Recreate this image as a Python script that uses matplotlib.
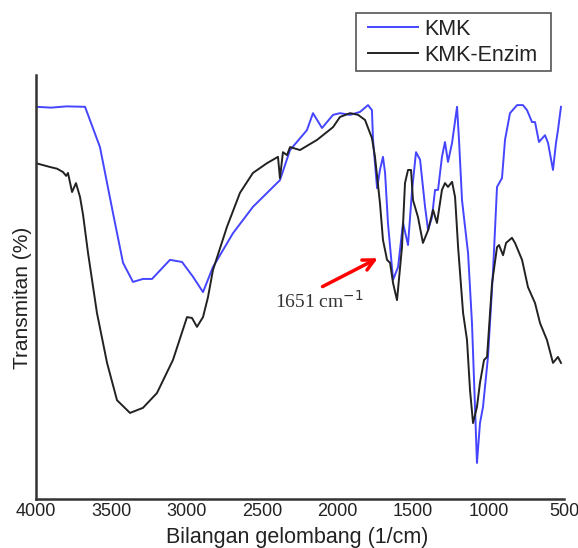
import matplotlib
matplotlib.use("Agg")
import matplotlib.pyplot as plt
from matplotlib.patches import Rectangle

# KMK (blue)
kmk_wn = [4000, 3900, 3800, 3675, 3576, 3490, 3423, 3357, 3291, 3231, 3112, 3032, 2959,
          2893, 2827, 2694, 2562, 2383, 2316, 2204, 2164, 2104, 2031, 1985, 1918, 1852,
          1799, 1773, 1766, 1739, 1720, 1700, 1686, 1667, 1633, 1600, 1567, 1534, 1507,
          1481, 1454, 1421, 1401, 1375, 1355, 1335, 1309, 1289, 1269, 1242, 1209, 1196,
          1176, 1156, 1136, 1110, 1090, 1077, 1057, 1037, 1004, 971, 944, 911, 891, 858,
          811, 772, 745, 712, 692, 666, 626, 606, 573, 553, 540, 520]
kmk_t = [92.5, 92.3, 92.6, 92.5, 83.0, 67.5, 55.7, 51.2, 51.9, 51.9, 56.4, 55.9, 52.4,
         48.8, 54.7, 62.7, 68.9, 75.2, 82.3, 87.0, 91.0, 87.5, 90.6, 91.0, 90.6, 91.3,
         92.9, 91.7, 84.7, 73.3, 77.6, 80.7, 76.9, 65.1, 51.7, 54.7, 65.1, 59.9, 72.9,
         81.8, 80.0, 68.9, 63.4, 66.5, 72.9, 72.9, 80.7, 84.2, 79.5, 84.0, 92.5, 84.7,
         70.5, 64.2, 58.0, 41.5, 21.7, 8.5, 17.9, 21.7, 33.5, 53.3, 73.6, 75.7, 84.7,
         91.0, 92.9, 92.9, 91.7, 88.9, 88.9, 84.2, 85.8, 84.0, 77.6, 84.0, 87.0, 92.5]

# KMK-Enzim (black)
enz_wn = [4000, 3907, 3860, 3821, 3800, 3788, 3761, 3735, 3708, 3688, 3655, 3596, 3529,
          3463, 3377, 3291, 3198, 3092, 2999, 2966, 2933, 2893, 2860, 2827, 2734, 2648,
          2562, 2469, 2396, 2383, 2363, 2336, 2316, 2250, 2137, 2031, 1985, 1918, 1865,
          1819, 1773, 1753, 1720, 1700, 1673, 1653, 1633, 1607, 1574, 1554, 1534, 1514,
          1501, 1468, 1435, 1401, 1368, 1342, 1309, 1289, 1269, 1242, 1222, 1202, 1169,
          1143, 1123, 1103, 1077, 1057, 1030, 1010, 977, 944, 931, 904, 884, 845, 825,
          778, 739, 692, 659, 613, 573, 540, 520]
enz_t = [79.2, 78.3, 77.9, 77.1, 76.2, 76.9, 72.4, 74.5, 71.2, 67.0, 58.0, 43.9, 32.1,
         23.3, 20.3, 21.5, 25.0, 32.8, 42.9, 42.7, 40.6, 42.9, 47.6, 54.0, 64.2, 72.2,
         76.9, 79.2, 80.7, 75.7, 81.8, 81.1, 83.0, 82.3, 84.7, 87.7, 90.1, 91.0, 90.6,
         89.4, 85.1, 80.7, 69.8, 61.1, 56.4, 55.7, 50.9, 46.9, 59.4, 74.5, 77.6, 77.6,
         70.5, 66.5, 60.4, 63.4, 68.2, 65.1, 72.9, 74.5, 73.6, 74.8, 71.2, 59.4, 43.9,
         37.5, 25.7, 17.9, 21.7, 27.4, 32.8, 33.5, 50.9, 59.4, 59.9, 57.5, 60.4, 61.6,
         60.4, 56.4, 50.0, 46.2, 41.5, 37.5, 32.1, 33.5, 32.1]

xticks = [4000, 3500, 3000, 2500, 2000, 1500, 1000, 500]
series_labels = ["KMK", "KMK-Enzim"]
peak_label = "1651 cm$^{-1}$"

W, H = 578, 548
fig = plt.figure(figsize=(W / 100, H / 100), dpi=100)
ax = fig.add_axes([36 / W, 1 - 499 / H, 528 / W, 424 / H])

ax.plot(kmk_wn, kmk_t, color="#4545ff", lw=1.4, label=series_labels[0])
ax.plot(enz_wn, enz_t, color="#222222", lw=1.4, label=series_labels[1])

ax.set_xlim(4000, 500)
ax.set_ylim(0, 100)
ax.set_xticks(xticks)
ax.set_xticklabels([str(t) for t in xticks], fontsize=13, color="#222222",
                   family="Liberation Sans")
ax.set_yticks([])
ax.tick_params(axis="x", length=0, pad=3)

for s in ["top", "right"]:
    ax.spines[s].set_visible(False)
for s in ["left", "bottom"]:
    ax.spines[s].set_color("#333333")
    ax.spines[s].set_linewidth(1.8)

ax.set_xlabel("Bilangan gelombang (1/cm)", fontsize=15.5, family="Liberation Sans",
              color="#222222")
ax.xaxis.set_label_coords(0.495, -0.066)
ax.set_ylabel("Transmitan (%)", fontsize=15, family="Liberation Sans",
              color="#222222")
ax.yaxis.set_label_coords(-0.008, 0.474)

ax.annotate("", xy=(1718, 57.1), xytext=(2117, 49.8),
            arrowprops=dict(arrowstyle="->", color="red", lw=2.5, mutation_scale=20))
ax.text(2416, 45.0, peak_label, fontsize=14, family="Liberation Serif",
        color="#333333", ha="left", va="baseline")

# legend box
fig.patches.append(Rectangle((356 / W, 1 - 71 / H), 195 / W, 58 / H,
                             transform=fig.transFigure, facecolor="white",
                             edgecolor="#555555", lw=1.2, zorder=2))
leg = fig.legend(loc="upper left", bbox_to_anchor=(368 / W, 1 - 19 / H),
                 bbox_transform=fig.transFigure, borderaxespad=0, borderpad=0,
                 prop={"family": "Liberation Sans", "size": 15.5},
                 frameon=False, handlelength=2.3, handletextpad=0.3,
                 labelspacing=0.22)
leg.set_zorder(3)
for t in leg.get_texts():
    t.set_color("#222222")

fig.savefig("out.png", dpi=100)
